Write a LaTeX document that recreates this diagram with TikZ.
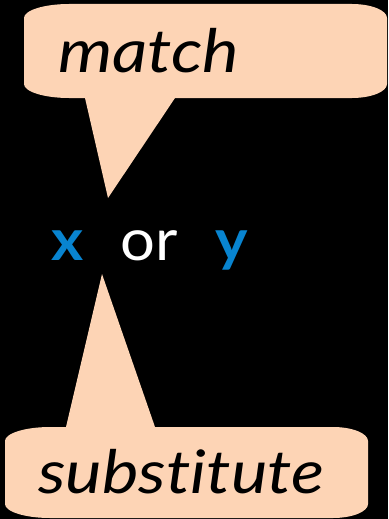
\documentclass[tikz,border=0pt]{standalone}
\usepackage{fontspec}
\setmainfont{Lato}[Ligatures={NoCommon,NoContextual}]
\newfontfamily\wordfont{Lato}[Ligatures={NoCommon,NoContextual},FakeStretch=1.15]
\newfontfamily\codefont{Lato}[FakeStretch=1.06]
\definecolor{peach}{RGB}{253,212,181}
\definecolor{varblue}{RGB}{8,132,208}
\begin{document}
\begin{tikzpicture}[x=1pt,y=-1pt,
  bubble/.style={fill=peach},
  word/.style={inner sep=0pt,anchor=base west,font=\wordfont\fontsize{60}{60}\selectfont\itshape,text=black},
  code/.style={inner sep=0pt,anchor=base west,font=\codefont\fontsize{58}{58}\selectfont},
  var/.style={code,text=varblue,font=\codefont\fontsize{58}{58}\selectfont\bfseries}]
\useasboundingbox (0,0) rectangle (388,519);
\fill[black] (0,0) rectangle (388,519);
% top callout
\fill[bubble] (69,4) -- (352,4) .. controls (371.3,4) and (387,10.3) .. (387,18)
  -- (387,84) .. controls (387,91.7) and (371.3,98) .. (352,98)
  -- (175,98) -- (108,198) -- (85,98) -- (69,98)
  .. controls (44.2,98) and (24,91.7) .. (24,84)
  -- (24,18) .. controls (24,10.3) and (44.2,4) .. (69,4) -- cycle;
% bottom callout
\fill[bubble] (50,427) -- (66,427) -- (102,274) -- (155,427) -- (333,427)
  .. controls (352.3,427) and (368,433.3) .. (368,441)
  -- (368,504) .. controls (368,511.7) and (352.3,518) .. (333,518)
  -- (50,518) .. controls (25.2,518) and (5,511.7) .. (5,504)
  -- (5,441) .. controls (5,433.3) and (25.2,427) .. (50,427) -- cycle;
\node[word] (match) at (58,72) {match};
\node[word] (subst) at (38,493) {substitute};
\node[var] (x) at (51,260) {x};
\node[code,text=white] (or) at (120,260) {or};
\node[var] (y) at (215,260) {y};
\end{tikzpicture}
\end{document}
